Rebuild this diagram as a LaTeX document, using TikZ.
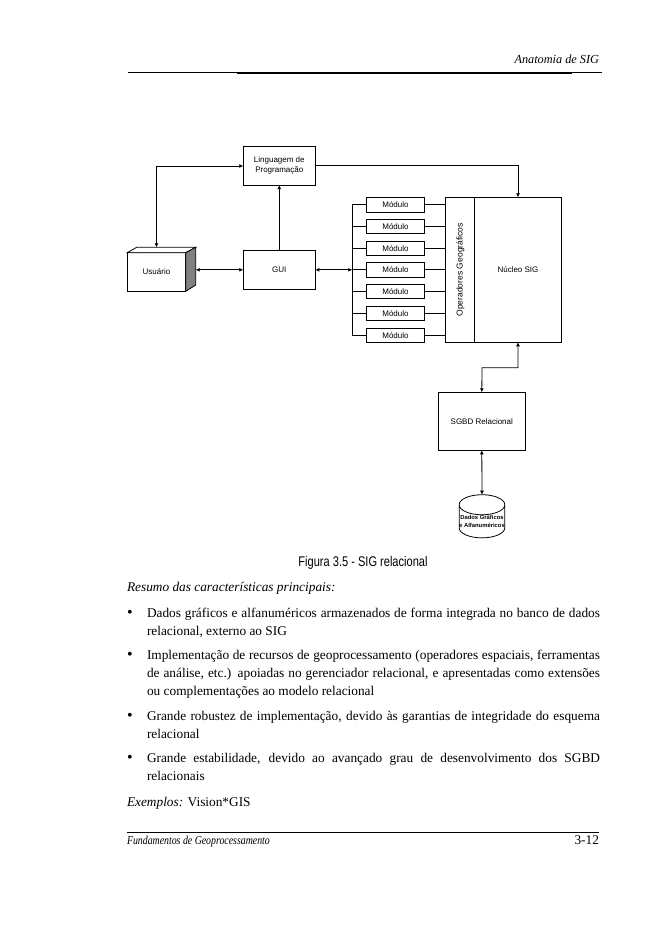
\documentclass[tikz,border=0pt]{standalone}
\usepackage{fontspec}
\setmainfont{Liberation Serif}
\newfontfamily\diagfont{Liberation Sans}
\newfontfamily\capfont[FakeStretch=0.79]{Liberation Sans}
\newfontfamily\footfont[FakeStretch=0.82]{Liberation Serif}
\usetikzlibrary{arrows.meta,positioning,calc,shapes.geometric}

\begin{document}
\begin{tikzpicture}[x=0.75pt, y=-0.75pt, font=\diagfont\fontsize{6}{7.4}\selectfont,
  bigbox/.style={draw, line width=0.6pt, inner sep=0pt, outer sep=0pt, align=center,
    minimum width=54pt, minimum height=29pt},
  modbox/.style={draw, line width=0.6pt, inner sep=0pt, outer sep=0pt,
    minimum width=43.8pt, minimum height=10.8pt},
  link/.style={line width=0.6pt},
  dlink/.style={line width=0.6pt, {Latex[length=3pt,width=3pt]}-{Latex[length=3pt,width=3pt]}},
  uplink/.style={line width=0.6pt, -{Latex[length=3pt,width=3pt]}},
  bodytext/.style={font=\rmfamily\fontsize{10}{13.5}\selectfont, inner sep=0pt, outer sep=0pt,
    anchor=north west, text width=339.75pt, align=justify},
  plaintext/.style={font=\rmfamily\fontsize{10}{13.5}\selectfont, inner sep=0pt, outer sep=0pt},
  bulletmark/.style={font=\rmfamily\fontsize{12}{12}\selectfont, inner sep=0pt, outer sep=0pt}]
\useasboundingbox (0,0) rectangle (661,936);

% header
\node[plaintext, anchor=base east, font=\rmfamily\itshape\fontsize{9.2}{11}\selectfont] (head) at (599,63) {Anatomia de SIG};
\coordinate (headl) at (128,72.7);
\coordinate (headr) at (602,72.7);
\coordinate (heavyl) at (237,72.7);
\coordinate (heavyr) at (572,72.7);
\draw[line width=0.6pt] (headl) -- (headr);
\draw[line width=1.5pt] (heavyl) -- (heavyr);

% upper boxes
\node[bigbox] (ling) at (279.3,165.8) {Linguagem de\\Programação};
\node[bigbox] (gui) at (279.3,269.8) {GUI};
\node[draw, line width=0.6pt, inner sep=0pt, outer sep=0pt, minimum width=43.8pt, minimum height=29pt] (user) at (156.5,272) {Usuário};
\coordinate (usertop) at (156.5,247.3);
\coordinate (userside) at (195.7,269.8);
\draw[line width=0.6pt, fill=white] (user.north west) -- (136.7,247.3) -- (195.7,247.3) -- (user.north east) -- cycle;
\draw[line width=0.6pt, fill=black!50] (user.north east) -- (195.7,247.3) -- (195.7,285) -- (user.south east) -- cycle;

% modules
\node[modbox] (mod1) at (395.5,204.8) {Módulo};
\node[modbox] (mod2) at (395.5,226.4) {Módulo};
\node[modbox] (mod3) at (395.5,248.4) {Módulo};
\node[modbox] (mod4) at (395.5,269.8) {Módulo};
\node[modbox] (mod5) at (395.5,291.4) {Módulo};
\node[modbox] (mod6) at (395.5,313.4) {Módulo};
\node[modbox] (mod7) at (395.5,335.3) {Módulo};

% core
\node[draw, line width=0.6pt, inner sep=0pt, outer sep=0pt, rotate=90, minimum width=108.75pt, minimum height=21.75pt, font=\diagfont\fontsize{6.4}{7.4}\selectfont] (opgeo) at (459.8,269.8) {\raisebox{-2.2pt}[0pt][0pt]{Operadores Geográficos}\hspace{3pt}};
\node[draw, line width=0.6pt, inner sep=0pt, outer sep=0pt, minimum width=65.5pt, minimum height=108.75pt] (nucleo) at (518,269.8) {Núcleo SIG};

% lower boxes
\node[draw, line width=0.6pt, inner sep=0pt, outer sep=0pt, minimum width=65.25pt, minimum height=43.5pt] (sgbd) at (481.8,421.3) {SGBD Relacional};
\node[draw, line width=0.6pt, cylinder, shape border rotate=90, aspect=0.44, inner sep=0pt, outer sep=0pt, minimum width=33pt, minimum height=30.5pt, align=center, font=\diagfont\bfseries\fontsize{4.4}{6.2}\selectfont] (db) at (482,521.5) {Dados Gráficos\\e Alfanuméricos};

% module bus
\coordinate (busa) at (352.3,204.8);
\coordinate (busb) at (352.3,335.3);
\draw[link] (busa) -- (busb);
\draw[link] (mod1.west) -- (busa);
\draw[link] (mod2.west) -- (mod2.west -| busa);
\draw[link] (mod3.west) -- (mod3.west -| busa);
\draw[link] (mod4.west) -- (mod4.west -| busa);
\draw[link] (mod5.west) -- (mod5.west -| busa);
\draw[link] (mod6.west) -- (mod6.west -| busa);
\draw[link] (mod7.west) -- (busb);
\draw[link] (mod1.east) -- (mod1.east -| opgeo.north);
\draw[link] (mod2.east) -- (mod2.east -| opgeo.north);
\draw[link] (mod3.east) -- (mod3.east -| opgeo.north);
\draw[link] (mod4.east) -- (mod4.east -| opgeo.north);
\draw[link] (mod5.east) -- (mod5.east -| opgeo.north);
\draw[link] (mod6.east) -- (mod6.east -| opgeo.north);
\draw[link] (mod7.east) -- (mod7.east -| opgeo.north);

% connectors
\draw[dlink] (ling.west |- 0,166) -| (usertop);
\draw[uplink] (gui.north) -- (ling.south);
\draw[dlink] (userside) -- (gui.west);
\coordinate (busin) at (352.3,269.8);
\draw[dlink] (gui.east) -- (busin);
\draw[uplink] (ling.east) -| (nucleo.north);
\coordinate (bend) at (482,367.7);
\draw[dlink] (sgbd.north) -- (bend) -| (nucleo.south);
\draw[dlink] (sgbd.south) -- (db.north);

% caption and text
\node[inner sep=0pt, font=\capfont\fontsize{10.5}{12}\selectfont] (fig) at (363,563) {Figura 3.5 - SIG relacional};
\node[plaintext, anchor=base west, font=\rmfamily\itshape\fontsize{10}{13.5}\selectfont] (resumo) at (127,591) {Resumo das características principais:};

\node[bulletmark] (b1) at (130,613.5) {•};
\node[bodytext] (p1) at (147,608) {Dados gráficos e alfanuméricos armazenados de forma integrada no banco de dados relacional, externo ao SIG};
\node[bulletmark] (b2) at (130,655.5) {•};
\node[bodytext] (p2) at (147,650) {Implementação de recursos de geoprocessamento (operadores espaciais, ferramentas de análise, etc.) apoiadas no gerenciador relacional, e apresentadas como extensões ou complementações ao modelo relacional};
\node[bulletmark] (b3) at (130,716.5) {•};
\node[bodytext] (p3) at (147,711) {Grande robustez de implementação, devido às garantias de integridade do esquema relacional};
\node[bulletmark] (b4) at (130,758.5) {•};
\node[bodytext] (p4) at (147,753) {Grande estabilidade, devido ao avançado grau de desenvolvimento dos SGBD\linebreak relacionais};
\node[plaintext, anchor=base west] (ex) at (127,806) {\textit{Exemplos:} Vision*GIS};

% footer
\coordinate (footl) at (127,832);
\coordinate (footr) at (599,832);
\draw[line width=0.6pt] (footl) -- (footr);
\node[plaintext, anchor=base west, font=\footfont\itshape\fontsize{9}{11}\selectfont] (foot) at (127,844) {Fundamentos de Geoprocessamento};
\node[plaintext, anchor=base east] (page) at (599,844) {3-12};
\end{tikzpicture}
\end{document}
